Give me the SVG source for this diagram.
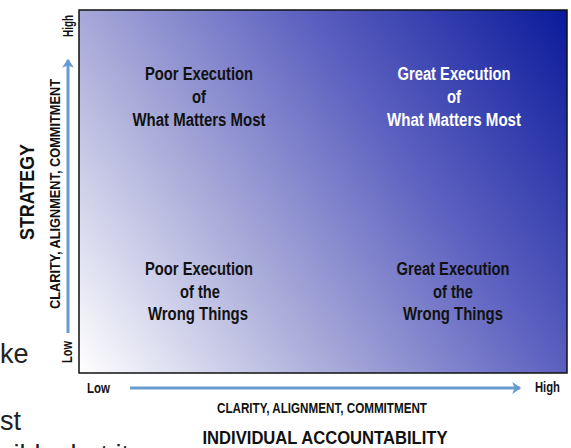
<svg xmlns="http://www.w3.org/2000/svg" width="571" height="448" viewBox="0 0 571 448">
<defs>
<linearGradient id="bg" gradientUnits="userSpaceOnUse" x1="79" y1="373" x2="572" y2="16">
<stop offset="0" stop-color="#ffffff"/>
<stop offset="0.33" stop-color="#abadda"/>
<stop offset="0.65" stop-color="#5b5fbf"/>
<stop offset="1" stop-color="#0a1a9a"/>
</linearGradient>
<marker id="ah" markerWidth="4" markerHeight="4" refX="2.6" refY="2" orient="auto" markerUnits="strokeWidth">
<path d="M0,0 L3,2 L0,4 L0.8,2 Z" fill="#6a9bd0"/>
</marker>
<style>
.b{font-family:"Liberation Sans Narrow","Arial Narrow","Liberation Sans",Arial,sans-serif;font-weight:bold;}
.q{font-size:18px;text-anchor:middle;}
.ax{font-size:14px;}
.side{font-family:"Liberation Sans",Arial,sans-serif;font-size:27px;fill:#222;}
.arr{stroke:#6a9bd0;stroke-width:3;fill:none;marker-end:url(#ah);}
</style>
</defs>
<rect width="571" height="448" fill="#ffffff"/>
<text class="side" x="0" y="363">ke</text>
<text class="side" x="0" y="430">st</text>
<text class="side" x="0" y="464">sible, but it</text>
<g id="grid">
<rect x="79" y="10" width="488" height="363" fill="url(#bg)" stroke="#111" stroke-width="1.5"/>
</g>
<g id="connectors">
<line class="arr" x1="68" y1="333" x2="68" y2="60"/>
<line class="arr" x1="130" y1="388" x2="520" y2="388"/>
</g>
<g id="q-tl" class="b q" fill="#111">
<text x="199" y="80" textLength="108" lengthAdjust="spacingAndGlyphs">Poor Execution</text>
<text x="199" y="103" textLength="14" lengthAdjust="spacingAndGlyphs">of</text>
<text x="199" y="126" textLength="133" lengthAdjust="spacingAndGlyphs">What Matters Most</text>
</g>
<g id="q-tr" class="b q" fill="#ffffff">
<text x="454" y="80" textLength="113" lengthAdjust="spacingAndGlyphs">Great Execution</text>
<text x="454" y="103" textLength="14" lengthAdjust="spacingAndGlyphs">of</text>
<text x="454" y="126" textLength="134" lengthAdjust="spacingAndGlyphs">What Matters Most</text>
</g>
<g id="q-bl" class="b q" fill="#111">
<text x="199" y="275" textLength="108" lengthAdjust="spacingAndGlyphs">Poor Execution</text>
<text x="200" y="298" textLength="40" lengthAdjust="spacingAndGlyphs">of the</text>
<text x="198" y="320" textLength="100" lengthAdjust="spacingAndGlyphs">Wrong Things</text>
</g>
<g id="q-br" class="b q" fill="#111">
<text x="453" y="275" textLength="113" lengthAdjust="spacingAndGlyphs">Great Execution</text>
<text x="453" y="298" textLength="40" lengthAdjust="spacingAndGlyphs">of the</text>
<text x="453" y="320" textLength="100" lengthAdjust="spacingAndGlyphs">Wrong Things</text>
</g>
<g id="y-axis" class="b" fill="#111">
<text class="ax" transform="translate(73,26) rotate(-90)" text-anchor="middle" textLength="22" lengthAdjust="spacingAndGlyphs">High</text>
<text class="ax" transform="translate(72,352) rotate(-90)" text-anchor="middle" textLength="22" lengthAdjust="spacingAndGlyphs">Low</text>
<text transform="translate(60,194) rotate(-90)" text-anchor="middle" font-size="14" textLength="230" lengthAdjust="spacingAndGlyphs">CLARITY, ALIGNMENT, COMMITMENT</text>
<text transform="translate(34,192) rotate(-90)" text-anchor="middle" font-size="20" textLength="96" lengthAdjust="spacingAndGlyphs">STRATEGY</text>
</g>
<g id="x-axis" class="b" fill="#111">
<text class="ax" x="87" y="393" textLength="23" lengthAdjust="spacingAndGlyphs">Low</text>
<text class="ax" x="535" y="392" textLength="25" lengthAdjust="spacingAndGlyphs">High</text>
<text x="322" y="413" text-anchor="middle" font-size="14" textLength="210" lengthAdjust="spacingAndGlyphs">CLARITY, ALIGNMENT, COMMITMENT</text>
<text x="325" y="444" text-anchor="middle" font-size="19" textLength="245" lengthAdjust="spacingAndGlyphs">INDIVIDUAL ACCOUNTABILITY</text>
</g>
</svg>
